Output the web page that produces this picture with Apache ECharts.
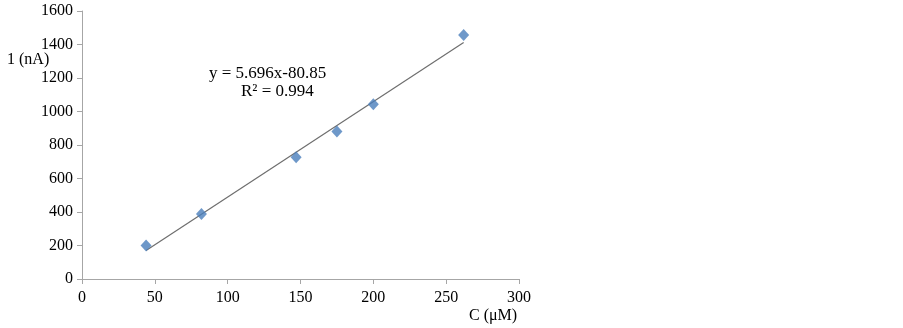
<!DOCTYPE html>
<html>
<head>
<meta charset="utf-8">
<script src="https://cdn.jsdelivr.net/npm/echarts@6/dist/echarts.min.js"></script>
<style>
  html, body { margin: 0; padding: 0; background: #fff; }
  #chart { width: 903px; height: 328px; }
</style>
</head>
<body>
<div id="chart"></div>
<script>
// measured points (C in µM, I in nA)
const concX = [44, 82, 147, 175, 200, 262]
const currentY = [200, 388, 727, 880, 1043, 1457]
// linear fit endpoints
const fitX = [44, 262]
const fitY = [170, 1412]
const eqLine1 = 'y = 5.696x-80.85'
const eqLine2 = 'R² = 0.994'

const myChart = echarts.init(document.getElementById('chart'))
const serif = 'Liberation Serif'
const axisGray = '#a6a6a6'

const option = {
  animation: false,
  grid: { left: 82, right: 384, top: 11, bottom: 49 },
  xAxis: {
    type: 'value',
    min: 0,
    max: 300,
    interval: 50,
    axisLine: { show: true, lineStyle: { color: axisGray } },
    axisTick: { show: true, length: 5, lineStyle: { color: axisGray } },
    axisLabel: { color: '#000', fontFamily: serif, fontSize: 16, margin: 11 },
    splitLine: { show: false }
  },
  yAxis: {
    type: 'value',
    min: 0,
    max: 1600,
    interval: 200,
    axisLine: { show: true, lineStyle: { color: axisGray } },
    axisTick: { show: true, length: 5, lineStyle: { color: axisGray } },
    axisLabel: {
      color: '#000',
      fontFamily: serif,
      fontSize: 16,
      margin: 9,
      formatter: (v) => String(v)
    },
    splitLine: { show: false }
  },
  graphic: [
    { type: 'text', left: 7, top: 52, style: { text: '1 (nA)', font: '16px "Liberation Serif"', fill: '#000' } },
    { type: 'text', left: 469, top: 308, style: { text: 'C (μM)', font: '16px "Liberation Serif"', fill: '#000' } },
    { type: 'text', left: 209, top: 65, style: { text: eqLine1, font: '17px "Liberation Serif"', fill: '#000' } },
    { type: 'text', left: 241, top: 83, style: { text: eqLine2, font: '17px "Liberation Serif"', fill: '#000' } }
  ],
  series: [
    {
      type: 'line',
      data: fitX.map((x, i) => [x, fitY[i]]),
      showSymbol: false,
      lineStyle: { color: '#6e6e6e', width: 1.2 },
      z: 1
    },
    {
      type: 'scatter',
      data: concX.map((x, i) => [x, currentY[i]]),
      symbol: 'diamond',
      symbolSize: [11, 12],
      itemStyle: { color: '#4a7ebb' },
      z: 2
    }
  ]
}
myChart.setOption(option)
</script>
</body>
</html>
